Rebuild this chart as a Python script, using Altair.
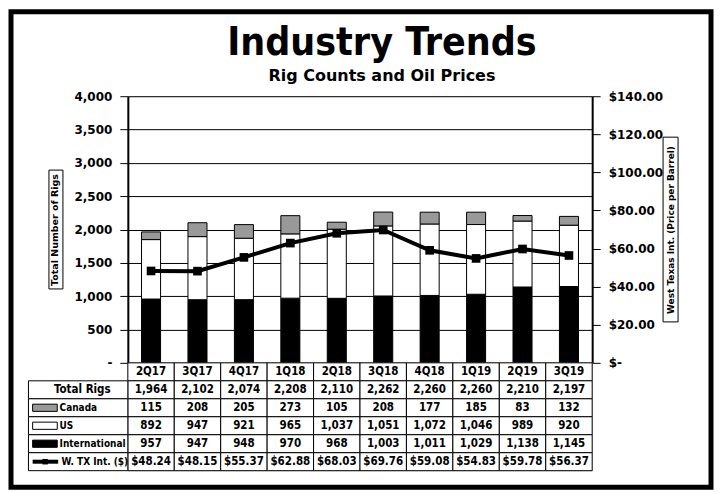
import altair as alt
import pandas as pd

cats = ["2Q17", "3Q17", "4Q17", "1Q18", "2Q18", "3Q18", "4Q18", "1Q19", "2Q19", "3Q19"]
total = [1964, 2102, 2074, 2208, 2110, 2262, 2260, 2260, 2210, 2197]
canada = [115, 208, 205, 273, 105, 208, 177, 185, 83, 132]
us = [892, 947, 921, 965, 1037, 1051, 1072, 1046, 989, 920]
intl = [957, 947, 948, 970, 968, 1003, 1011, 1029, 1138, 1145]
wti = [48.24, 48.15, 55.37, 62.88, 68.03, 69.76, 59.08, 54.83, 59.78, 56.37]

series_names = ["International", "US", "Canada"]
series_colors = ["#000000", "#ffffff", "#999999"]
row_labels = ["Total Rigs", "Canada", "US", "International", "W. TX Int. ($)"]

NARROW = "'DejaVu Sans Condensed', 'Liberation Sans Narrow', 'Liberation Sans', sans-serif"
BOLDF = "DejaVu Sans"

W, H = 465, 267
TH = 108

# ---------- bar data ----------
bar_rows = []
for i, c in enumerate(cats):
    for k, (name, vals) in enumerate(zip(series_names, [intl, us, canada])):
        bar_rows.append({"cat": c, "series": name, "rigs": vals[i], "order": k})
bars_df = pd.DataFrame(bar_rows)
price_df = pd.DataFrame({"cat": cats, "price": wti})

xband = alt.X("cat:N", sort=cats, axis=None,
              scale=alt.Scale(paddingInner=0.59, paddingOuter=0.295))

bars = alt.Chart(bars_df).mark_bar(stroke="black", strokeWidth=1).encode(
    x=xband,
    y=alt.Y("sum(rigs):Q",
            scale=alt.Scale(domain=[0, 4000], nice=False),
            axis=alt.Axis(values=list(range(0, 4001, 500)),
                          labelExpr="datum.value == 0 ? '-' : format(datum.value, ',')",
                          grid=True, gridColor="black", gridWidth=1, gridOpacity=1,
                          domainColor="black", domainWidth=2,
                          tickColor="black", tickSize=8, labelPadding=8,
                          labelFont=BOLDF, labelFontWeight="bold", labelFontSize=12,
                          labelColor="black",
                          title="Total Number of Rigs", titleFont=BOLDF,
                          titleFontWeight="bold", titleFontSize=9.5, titleColor="black",
                          titlePadding=14)),
    color=alt.Color("series:N", scale=alt.Scale(domain=series_names, range=series_colors),
                    legend=None),
    order=alt.Order("order:Q"),
)

one = pd.DataFrame({"a": [0]})
frame = alt.Chart(one).mark_rect(fill="transparent", stroke="black", strokeWidth=5).encode(
    x=alt.value(-117), x2=alt.value(584), y=alt.value(-84.5), y2=alt.value(391.5))
lbox = alt.Chart(one).mark_rect(fill="transparent", stroke="black", strokeWidth=1).encode(
    x=alt.value(-79), x2=alt.value(-65), y=alt.value(74), y2=alt.value(193))
rbox = alt.Chart(one).mark_rect(fill="transparent", stroke="black", strokeWidth=1).encode(
    x=alt.value(536), x2=alt.value(551), y=alt.value(41), y2=alt.value(226))
title = alt.Chart(one).mark_text(text="Industry Trends", font=NARROW, fontWeight="bold",
                                 fontSize=39, baseline="alphabetic", align="center",
                                 color="black").encode(x=alt.value(254.5), y=alt.value(-41))
subtitle = alt.Chart(one).mark_text(text="Rig Counts and Oil Prices", font=BOLDF,
                                    fontWeight="bold", fontSize=16, baseline="alphabetic",
                                    align="center", color="black").encode(
    x=alt.value(254.5), y=alt.value(-15))

left_layer = alt.layer(frame, lbox, rbox, title, subtitle, bars)

price_axis = alt.Axis(orient="right", values=list(range(0, 141, 20)),
                      labelExpr="datum.value == 0 ? '$-' : '$' + format(datum.value, ',.2f')",
                      grid=False, domainColor="black", domainWidth=2,
                      tickColor="black", tickSize=8, labelPadding=8,
                      labelFont=BOLDF, labelFontWeight="bold", labelFontSize=12,
                      labelColor="black",
                      title="West Texas Int. (Price per Barrel)", titleFont=BOLDF,
                      titleFontWeight="bold", titleFontSize=9, titleColor="black",
                      titleAngle=270, titleBaseline="top", titlePadding=4)
price_y = alt.Y("price:Q", scale=alt.Scale(domain=[0, 140], nice=False), axis=price_axis)

line = alt.Chart(price_df).mark_line(color="black", strokeWidth=4).encode(x=xband, y=price_y)
points = alt.Chart(price_df).mark_point(shape="square", filled=True, color="black",
                                        size=75, opacity=1).encode(x=xband, y=price_y)
price_layer = alt.layer(line, points)

top = alt.layer(left_layer, price_layer).resolve_scale(y="independent").properties(
    width=W, height=H)

# ---------- table ----------
cells = []
for i, c in enumerate(cats):
    texts = [c, f"{total[i]:,}", f"{canada[i]:,}", f"{us[i]:,}", f"{intl[i]:,}", f"${wti[i]:.2f}"]
    for r, t in enumerate(texts):
        cells.append({"x": i, "x2": i + 1, "y": r, "y2": r + 1, "xc": i + 0.5, "yc": r + 0.5,
                      "t": t})
cells_df = pd.DataFrame(cells)

LX0 = -2.14
lab_df = pd.DataFrame({
    "x": [LX0] * 5, "x2": [0] * 5, "y": [1, 2, 3, 4, 5], "y2": [2, 3, 4, 5, 6],
    "yc": [1.5, 2.5, 3.5, 4.5, 5.5], "t": row_labels,
    "tx": [-0.98, -1.47, -1.47, -1.47, -1.43],
    "al": ["center", "left", "left", "left", "left"],
})
sw_df = pd.DataFrame({"series": ["Canada", "US", "International"],
                      "y": [2.3, 3.3, 4.3], "y2": [2.7, 3.7, 4.7],
                      "x": [-2.05] * 3, "x2": [-1.52] * 3})
wt_df = pd.DataFrame({"x": [-2.05], "x2": [-1.5], "xc": [-1.78], "yc": [5.5]})

tx = alt.Scale(domain=[0, 10], nice=False, zero=False)
ty = alt.Scale(domain=[0, 6], nice=False, reverse=True)

cell_rect = alt.Chart(cells_df).mark_rect(fill="white", stroke="black", strokeWidth=1).encode(
    x=alt.X("x:Q", scale=tx, axis=None), x2="x2:Q",
    y=alt.Y("y:Q", scale=ty, axis=None), y2="y2:Q")
cell_text = alt.Chart(cells_df).mark_text(font=NARROW, fontWeight="bold", fontSize=11.5,
                                          color="black").encode(
    x=alt.X("xc:Q", scale=tx, axis=None), y=alt.Y("yc:Q", scale=ty, axis=None), text="t:N")
lab_rect = alt.Chart(lab_df).mark_rect(fill="white", stroke="black", strokeWidth=1).encode(
    x=alt.X("x:Q", scale=tx, axis=None), x2="x2:Q",
    y=alt.Y("y:Q", scale=ty, axis=None), y2="y2:Q")
lab_text_c = alt.Chart(lab_df).transform_filter("datum.al == 'center'").mark_text(
    font=NARROW, fontWeight="bold", fontSize=11.5, color="black", align="center").encode(
    x=alt.X("tx:Q", scale=tx, axis=None), y=alt.Y("yc:Q", scale=ty, axis=None), text="t:N")
lab_text_l = alt.Chart(lab_df).transform_filter("datum.al == 'left'").mark_text(
    font=NARROW, fontWeight="bold", fontSize=10, color="black", align="left").encode(
    x=alt.X("tx:Q", scale=tx, axis=None), y=alt.Y("yc:Q", scale=ty, axis=None), text="t:N")
sw = alt.Chart(sw_df).mark_rect(stroke="black", strokeWidth=1).encode(
    x=alt.X("x:Q", scale=tx, axis=None), x2="x2:Q",
    y=alt.Y("y:Q", scale=ty, axis=None), y2="y2:Q",
    color=alt.Color("series:N", scale=alt.Scale(domain=series_names, range=series_colors),
                    legend=None))
wt_rule = alt.Chart(wt_df).mark_rule(color="black", strokeWidth=4).encode(
    x=alt.X("x:Q", scale=tx, axis=None), x2="x2:Q", y=alt.Y("yc:Q", scale=ty, axis=None))
wt_pt = alt.Chart(wt_df).mark_point(shape="square", filled=True, color="black", size=30,
                                    opacity=1).encode(
    x=alt.X("xc:Q", scale=tx, axis=None), y=alt.Y("yc:Q", scale=ty, axis=None))

table = alt.layer(cell_rect, lab_rect, cell_text, lab_text_c, lab_text_l, sw, wt_rule,
                  wt_pt).properties(width=W, height=TH)

chart = alt.vconcat(top, table, spacing=0, bounds="flush").configure_view(
    stroke="black", strokeWidth=1).configure(background="white", padding=0)

chart.save("out.html", embed_options={"renderer": "svg", "actions": False})
